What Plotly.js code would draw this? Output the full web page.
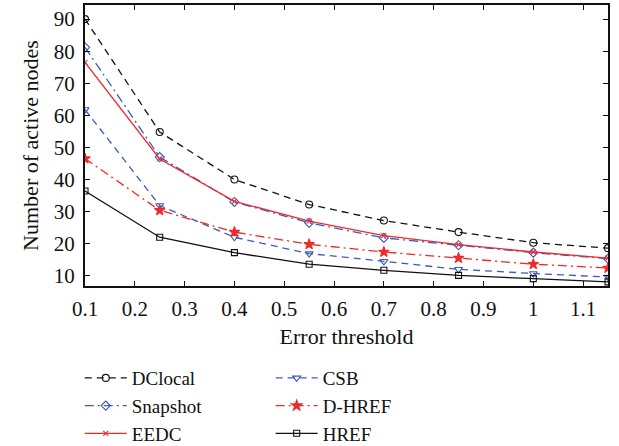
<!DOCTYPE html>
<html>
<head>
<meta charset="utf-8">
<script src="https://cdn.plot.ly/plotly-3.0.1.min.js"></script>
<style>html,body{margin:0;padding:0;background:#fff;}#chart{width:619px;height:446px;}</style>
</head>
<body>
<div id="chart"></div>
<script>
const errorThreshold = [0.1, 0.25, 0.4, 0.55, 0.7, 0.85, 1.0, 1.15];
const dclocal  = [90.0, 54.8, 40.0, 32.2, 27.2, 23.6, 20.3, 18.6];
const snapshot = [81.2, 47.0, 33.0, 26.5, 21.8, 19.5, 17.2, 15.3];
const eedc     = [76.5, 46.4, 33.2, 27.0, 22.5, 19.7, 17.4, 15.5];
const csb      = [61.8, 31.9, 22.0, 16.9, 14.5, 12.0, 10.7, 9.6];
const dhref    = [46.5, 30.4, 23.6, 19.8, 17.4, 15.5, 13.6, 12.4];
const href     = [36.4, 22.0, 17.2, 13.6, 11.7, 10.1, 9.1, 8.1];
const yTicks = [10, 20, 30, 40, 50, 60, 70, 80, 90];
const xTicks = [0.1, 0.2, 0.3, 0.4, 0.5, 0.6, 0.7, 0.8, 0.9, 1, 1.1];
const xTickText = ['0.1','0.2','0.3','0.4','0.5','0.6','0.7','0.8','0.9','1','1.1'];

const BLUE = '#3a5bbd', RED = '#ee2a2a', BLACK = '#111111';
const SERIF = 'Liberation Serif, DejaVu Serif, serif';

function tr(name, y, color, dash, symbol, msize, legend) {
  return {
    x: errorThreshold, y: y, name: name, type: 'scatter', mode: 'lines+markers',
    line: {color: color, width: 1.3, dash: dash},
    marker: {symbol: symbol, size: msize, color: color, line: {color: color, width: 1.1}},
    legend: legend
  };
}

const data = [
  tr('DClocal', dclocal, BLACK, '7px,5px', 'circle-open', 7, 'legend'),
  tr('Snapshot', snapshot, BLUE, '9px,4px,2px,4px', 'diamond-open', 7, 'legend'),
  tr('EEDC', eedc, RED, 'solid', 'x-thin-open', 5, 'legend'),
  tr('CSB', csb, BLUE, '7px,5px', 'triangle-down-open', 7, 'legend2'),
  tr('D-HREF', dhref, RED, '9px,4px,2px,4px', 'star', 8, 'legend2'),
  tr('HREF', href, BLACK, 'solid', 'square-open', 6, 'legend2')
];

const layout = {
  width: 619, height: 446,
  margin: {l: 85, r: 11, t: 5, b: 160, autoexpand: false},
  paper_bgcolor: '#fff', plot_bgcolor: '#fff',
  font: {family: SERIF, color: '#111', size: 20},
  showlegend: true,
  xaxis: {
    range: [0.1, 1.15], tickvals: xTicks, ticktext: xTickText, automargin: false,
    ticks: 'inside', ticklen: 5, tickcolor: BLACK, tickwidth: 1,
    showline: true, linecolor: BLACK, linewidth: 2, mirror: 'ticks',
    showgrid: false, zeroline: false, ticklabelstandoff: 3,
    tickfont: {family: SERIF, size: 21},
    title: {text: 'Error threshold', font: {family: SERIF, size: 22}, standoff: 8}
  },
  yaxis: {
    range: [6.8, 94.4], tickvals: yTicks, automargin: false,
    ticks: 'inside', ticklen: 5, tickcolor: BLACK, tickwidth: 1,
    showline: true, linecolor: BLACK, linewidth: 2, mirror: 'ticks',
    showgrid: false, zeroline: false, ticklabelstandoff: 4,
    tickfont: {family: SERIF, size: 21},
    title: {text: 'Number of active nodes', font: {family: SERIF, size: 22}, standoff: 9}
  },
  legend: {
    x: -0.01, y: -0.26, xanchor: 'left', yanchor: 'top', orientation: 'v',
    font: {family: SERIF, size: 19, color: '#111'}, bgcolor: 'rgba(0,0,0,0)', borderwidth: 0, tracegroupgap: 0, itemwidth: 42
  },
  legend2: {
    x: 0.355, y: -0.26, xanchor: 'left', yanchor: 'top', orientation: 'v',
    font: {family: SERIF, size: 19, color: '#111'}, bgcolor: 'rgba(0,0,0,0)', borderwidth: 0, tracegroupgap: 0, itemwidth: 42
  }
};

Plotly.newPlot('chart', data, layout, {staticPlot: true, displayModeBar: false});
</script>
</body>
</html>
